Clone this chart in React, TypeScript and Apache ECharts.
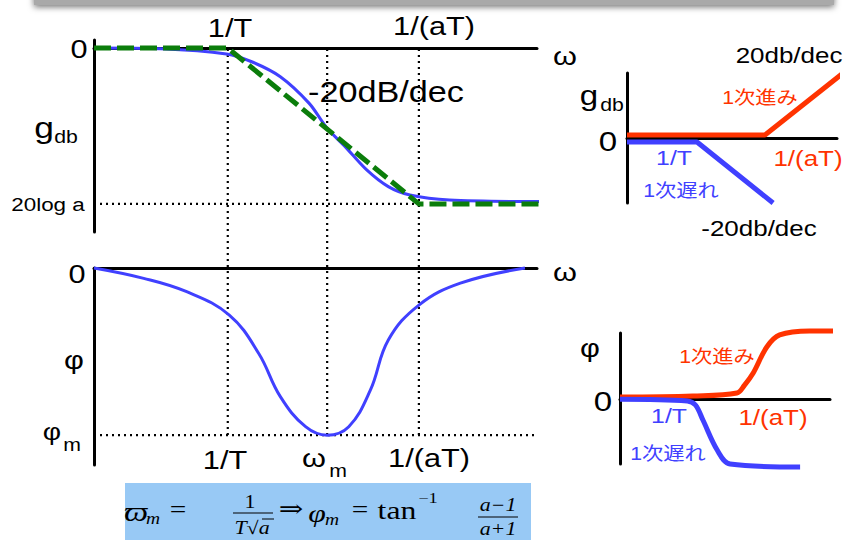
import React, { useEffect, useRef } from "react";
import * as echarts from "echarts";

// ---------- data (x = log10(ωT), decades) ----------
const GUIDE_LOG_W = [0, 0.52, 1]; // 1/T, ωm, 1/(aT)
const LOG_A_DB = -20; // 20 log a
const PHI_M = -55; // φm (deg)

const MAG_LOG_W = [-0.7, -0.35, -0.007, 0.125, 0.275, 0.426, 0.52, 0.614, 0.727, 0.84, 0.953, 1.16, 1.63];
const MAG_DB = [0, -0.1, -0.77, -1.76, -3.68, -7.1, -10.3, -12.65, -15.64, -17.78, -18.85, -19.5, -19.7];
const ASYM_LOG_W = [-0.7, 0, 1, 1.68];
const ASYM_DB = [0, 0, -20, -20];

const PHASE_LOG_W = [-0.7, -0.44, -0.215, 0.008, 0.162, 0.275, 0.407, 0.52, 0.633, 0.746, 0.84, 1.0, 1.217, 1.555];
const PHASE_DEG = [0, -3.4, -7.8, -15.5, -28.1, -42.3, -52.2, -55, -52.2, -40.2, -23.7, -12.2, -5.0, 0];

const R_LEAD_GAIN_W = [-1.03, 1.0, 2.15];
const R_LEAD_GAIN_DB = [1.06, 1.06, 22.9];
const R_LAG_GAIN_W = [-1.03, 0, 1.12];
const R_LAG_GAIN_DB = [-1.4, -1.4, -22.9];

const R_LEAD_PHASE_W = [-1.03, 0.04, 0.69, 0.8, 0.93, 1.13, 1.32, 1.76, 2.43];
const R_LEAD_PHASE_DEG = [2.6, 4, 7.9, 18, 34.4, 68.8, 84.7, 90, 90];
const R_LAG_PHASE_W = [-1.03, -0.04, 0.08, 0.19, 0.4, 0.59, 1.62];
const R_LAG_PHASE_DEG = [-0.5, -2.6, -8, -27.8, -67.5, -86, -90];

// ---------- styles ----------
const BLUE = "#4040ff";
const GREEN = "#0b7d0b";
const RED = "#ff3300";
const SANS = '"Liberation Sans", Arial, "Noto Sans CJK JP", sans-serif';
const SERIF = '"Liberation Serif", "Times New Roman", "DejaVu Serif", serif';
const SX = 1.18;
const FX = 1.22;

const zip = (xs: number[], ys: number[]) => xs.map((x, i) => [x, ys[i]]);

function txt(text: string, x: number, y: number, size: number, color = "#000", opts: any = {}) {
  return {
    type: "text",
    x,
    y,
    scaleX: opts.scaleX ?? SX,
    z: 100,
    style: {
      text,
      fontSize: size,
      fontFamily: opts.family ?? SANS,
      fontStyle: opts.italic ? "italic" : "normal",
      fill: color,
      align: "center",
      verticalAlign: "middle",
    },
  };
}

function hline(x1: number, x2: number, y: number, color = "#000", w = 1.2) {
  return { type: "line", z: 100, shape: { x1, y1: y, x2, y2: y }, style: { stroke: color, lineWidth: w } };
}

const axisOn = (extra: any = {}) => ({
  show: true,
  lineStyle: { color: "#000", width: 3 },
  ...extra,
});

function xAx(grid: number, min: number, max: number, showLine: boolean) {
  return {
    type: "value",
    gridIndex: grid,
    min,
    max,
    axisLine: showLine ? axisOn({ onZero: true }) : { show: false },
    axisTick: { show: false },
    axisLabel: { show: false },
    splitLine: { show: false },
  };
}
function yAx(grid: number, min: number, max: number, showLine: boolean) {
  return {
    type: "value",
    gridIndex: grid,
    min,
    max,
    axisLine: showLine ? axisOn({ onZero: false }) : { show: false },
    axisTick: { show: false },
    axisLabel: { show: false },
    splitLine: { show: false },
  };
}

function line(data: number[][], axis: number, color: string, width: number, extra: any = {}) {
  return {
    type: "line",
    xAxisIndex: axis,
    yAxisIndex: axis,
    data,
    symbol: "none",
    showSymbol: false,
    clip: false,
    silent: true,
    lineStyle: { color, width, ...(extra.lineStyle || {}) },
    smooth: extra.smooth ?? false,
    z: extra.z ?? 3,
  };
}

const DOT = { type: [2, 4], cap: "butt" };

export default function App() {
  const ref = useRef<HTMLDivElement>(null);
  useEffect(() => {
    const chart = echarts.init(ref.current!, null, { renderer: "svg" });
    const series: any[] = [];
    // vertical guides through both plots
    GUIDE_LOG_W.forEach((g) => {
      series.push(line([[g, 0], [g, 1]], 2, "#000", 2.2, { lineStyle: DOT, z: 2 }));
    });
    // 20log a guide and φm guide
    series.push(line([[-0.7, LOG_A_DB], [GUIDE_LOG_W[2], LOG_A_DB]], 0, "#000", 2.2, { lineStyle: DOT, z: 2 }));
    series.push(line([[-0.7, PHI_M], [1.618, PHI_M]], 1, "#000", 2.2, { lineStyle: DOT, z: 2 }));
    // main curves
    series.push(line(zip(MAG_LOG_W, MAG_DB), 0, BLUE, 3, { smooth: 0.3 }));
    series.push(line(zip(ASYM_LOG_W, ASYM_DB), 0, GREEN, 5, { lineStyle: { type: [17, 6] }, z: 4 }));
    series.push(line(zip(PHASE_LOG_W, PHASE_DEG), 1, BLUE, 3, { smooth: 0.4 }));
    // right-side sketches
    series.push(line(zip(R_LEAD_GAIN_W, R_LEAD_GAIN_DB), 3, RED, 5));
    series.push(line(zip(R_LAG_GAIN_W, R_LAG_GAIN_DB), 3, BLUE, 5));
    series.push(line(zip(R_LEAD_PHASE_W, R_LEAD_PHASE_DEG), 4, RED, 5, { smooth: 0.35 }));
    series.push(line(zip(R_LAG_PHASE_W, R_LAG_PHASE_DEG), 4, BLUE, 5, { smooth: 0.35 }));

    const graphic: any[] = [
      // top grey bar
      {
        type: "rect",
        z: 90,
        shape: { x: 34, y: -20, width: 800, height: 25 },
        style: { fill: "#a9a9a9", shadowBlur: 6, shadowColor: "rgba(0,0,0,0.55)", shadowOffsetY: 2 },
      },
      // formula box
      { type: "rect", z: 90, shape: { x: 125, y: 483, width: 406, height: 60 }, style: { fill: "#98c9f5" } },
      // main gain plot labels
      txt("0", 79, 49, 26),
      txt("1/T", 230, 28, 26),
      txt("1/(aT)", 434, 26, 26),
      txt("ω", 565, 56, 26),
      txt("-20dB/dec", 386, 92, 29),
      txt("g", 44, 127, 30),
      txt("db", 66, 137, 18),
      txt("20log a", 48, 204, 19),
      // main phase plot labels
      txt("0", 77, 274, 26),
      txt("ω", 565, 272, 26),
      txt("φ", 74, 360, 26),
      txt("φ", 52, 432, 24),
      txt("m", 72, 445, 18),
      txt("1/T", 225, 460, 26),
      txt("ω", 314, 458, 26),
      txt("m", 338, 471, 18),
      txt("1/(aT)", 429, 458, 26),
      // right gain sketch
      txt("20db/dec", 789, 55, 22),
      txt("g", 589, 95, 28),
      txt("db", 612, 105, 18),
      txt("0", 608, 141, 28),
      txt("1次進み", 760, 98, 18, RED),
      txt("1/T", 674, 158, 21, BLUE),
      txt("1/(aT)", 808, 158, 22, RED),
      txt("1次遅れ", 681, 191, 18, BLUE),
      txt("-20db/dec", 759, 228, 22),
      // right phase sketch
      txt("φ", 590, 348, 26),
      txt("0", 603, 401, 28),
      txt("1次進み", 717, 357, 18, RED),
      txt("1/T", 669, 416, 21, BLUE),
      txt("1/(aT)", 773, 417, 22, RED),
      txt("1次遅れ", 668, 454, 18, BLUE),
      // formula
      txt("ϖ", 136, 512, 28, "#000", { family: SERIF, italic: true, scaleX: FX }),
      txt("m", 153, 519, 16, "#000", { family: SERIF, italic: true, scaleX: FX }),
      txt("=", 178, 509, 24, "#000", { family: SERIF, scaleX: FX }),
      txt("1", 250, 502, 18, "#000", { family: SERIF, scaleX: FX }),
      hline(233, 273, 513),
      txt("T√a", 252, 528, 18, "#000", { family: SERIF, italic: true, scaleX: FX }),
      hline(262, 274, 519, "#000", 1),
      txt("⇒", 291, 509, 24, "#000", { family: SERIF, scaleX: FX }),
      txt("φ", 317, 513, 26, "#000", { family: SERIF, italic: true, scaleX: FX }),
      txt("m", 332, 520, 16, "#000", { family: SERIF, italic: true, scaleX: FX }),
      txt("=", 360, 509, 24, "#000", { family: SERIF, scaleX: FX }),
      txt("tan", 397, 510, 26, "#000", { family: SERIF, scaleX: FX }),
      txt("−1", 428, 498, 15, "#000", { family: SERIF, scaleX: FX }),
      txt("a−1", 498, 505, 18, "#000", { family: SERIF, italic: true, scaleX: FX }),
      hline(478, 518, 517),
      txt("a+1", 498, 529, 18, "#000", { family: SERIF, italic: true, scaleX: FX }),
    ];

    chart.setOption({
      animation: false,
      backgroundColor: "#ffffff",
      grid: [
        { left: 94, top: 40, width: 443, height: 192 },
        { left: 94, top: 268, width: 443, height: 197 },
        { left: 94, top: 48, width: 443, height: 387 },
        { left: 627, top: 73, width: 210, height: 130 },
        { left: 620, top: 333, width: 210, height: 131 },
      ],
      xAxis: [
        xAx(0, -0.7, 1.618, true),
        xAx(1, -0.7, 1.618, true),
        xAx(2, -0.7, 1.618, false),
        xAx(3, -1.03, 2.06, true),
        xAx(4, -1.03, 2.06, true),
      ],
      yAxis: [
        yAx(0, -23.6, 1.03, true),
        yAx(1, -64.8, 0, true),
        yAx(2, 0, 1, false),
        yAx(3, -22.9, 22.9, true),
        yAx(4, -86, 87.3, true),
      ],
      series,
      graphic,
    });
    return () => chart.dispose();
  }, []);
  return (
    <div
      ref={ref}
      style={{ position: "absolute", left: 0, top: 0, width: 856, height: 540, background: "#fff" }}
    />
  );
}
